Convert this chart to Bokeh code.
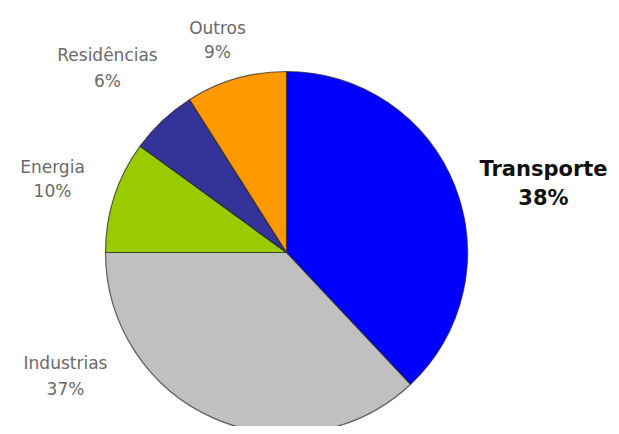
import math
from bokeh.plotting import figure
from bokeh.models import Range1d, ColumnDataSource
from bokeh.core.properties import value
from bokeh.embed import file_html
from bokeh.resources import INLINE

# ---- data ----
categories = ["Transporte", "Industrias", "Energia", "Residências", "Outros"]
shares = [38, 37, 10, 6, 9]
colors = ["#0000ff", "#c0c0c0", "#99cc00", "#333399", "#ff9900"]

# ---- layout ----
W, H = 611, 426
IMG_H = 434       # reference picture height
cx_px, cy_px, radius = 286, 252, 181

def X(px):
    return px

def Y(py):
    return IMG_H - py

p = figure(width=W, height=H, output_backend="svg", toolbar_location=None,
           x_range=Range1d(0, W), y_range=Range1d(IMG_H - H, IMG_H),
           min_border=0, outline_line_color=None)
p.axis.visible = False
p.grid.visible = False
p.background_fill_color = "white"
p.border_fill_color = "white"

total = sum(shares)
starts, ends = [], []
a = math.pi / 2
for v in shares:
    starts.append(a)
    a -= v / total * 2 * math.pi
    ends.append(a)

src = ColumnDataSource(dict(cat=categories, start=starts, end=ends, color=colors,
                            x=[X(cx_px)] * len(shares), y=[Y(cy_px)] * len(shares)))
p.wedge(x="x", y="y", radius=radius, radius_units="screen",
        start_angle="start", end_angle="end", direction="clock",
        fill_color="color", line_color="#222222", line_alpha=0.7, line_width=1.2,
        source=src)

# label positions (pixel centres: name line, percent line)
label_pos = {
    "Transporte": (543, 168, 197),
    "Industrias": (65, 362, 388),
    "Energia": (52, 166, 190),
    "Residências": (107, 54, 80),
    "Outros": (217, 27, 51),
}

for cat, v in zip(categories, shares):
    lx, ly1, ly2 = label_pos[cat]
    if cat == "Transporte":
        kw = dict(text_color="#111111", text_font_size="21px", text_font_style="bold")
    else:
        kw = dict(text_color="#6a6a6a", text_font_size="17px", text_font_style="normal")
    p.text(x=[X(lx)], y=[Y(ly1)], text=[cat], text_align="center", text_baseline="middle",
           text_font=value("DejaVu Sans"), **kw)
    p.text(x=[X(lx)], y=[Y(ly2)], text=[f"{v}%"], text_align="center", text_baseline="middle",
           text_font=value("DejaVu Sans"), **kw)

open("out.html", "w").write(file_html(p, INLINE))
